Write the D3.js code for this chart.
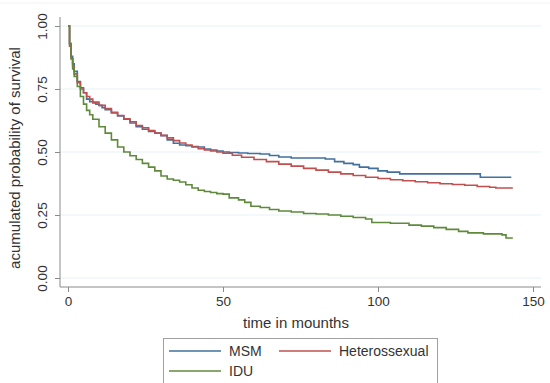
<!DOCTYPE html>
<html>
<head>
<meta charset="utf-8">
<script src="https://cdnjs.cloudflare.com/ajax/libs/d3/7.8.5/d3.min.js"></script>
<style>
  body { margin: 0; background: #fff; }
  svg { display: block; font-family: "Liberation Sans", Arial, sans-serif; }
</style>
</head>
<body>
<div id="chart"></div>
<script>
// Kaplan-Meier estimates (months, survival)
var msmTime = [0,0.5,1,1.5,2,3,4,5,6,7,8,9,10,11,12,14,16,18,20,22,24,26,28,30,32,34,36,38,40,42,44,46,48,50,52,55,58,62,65,68,72,76,80,83,86,89,92,94,97,100,103,107,112,120,128,133,143];
var msmSurv = [1,0.93,0.88,0.85,0.82,0.78,0.755,0.735,0.71,0.70,0.695,0.69,0.685,0.676,0.668,0.655,0.643,0.63,0.615,0.60,0.59,0.582,0.575,0.565,0.548,0.535,0.528,0.525,0.522,0.52,0.512,0.508,0.504,0.50,0.498,0.496,0.494,0.492,0.486,0.48,0.476,0.476,0.476,0.472,0.462,0.455,0.45,0.44,0.435,0.425,0.42,0.413,0.413,0.413,0.413,0.40,0.40];

var hetTime = [0,0.5,1,1.5,2,3,4,5,6,7,8,10,12,14,16,18,20,22,24,26,28,30,32,34,36,38,40,42,44,46,48,50,53,56,60,64,68,72,76,80,84,88,92,96,100,104,108,112,116,120,124,128,132,136,138,143.5];
var hetSurv = [1,0.92,0.87,0.84,0.81,0.775,0.75,0.735,0.72,0.71,0.698,0.685,0.672,0.658,0.645,0.632,0.62,0.605,0.596,0.585,0.575,0.566,0.556,0.545,0.536,0.528,0.52,0.513,0.508,0.504,0.50,0.495,0.487,0.479,0.47,0.462,0.452,0.444,0.435,0.428,0.42,0.413,0.407,0.40,0.395,0.39,0.386,0.382,0.378,0.374,0.371,0.368,0.363,0.36,0.357,0.357];

var iduTime = [0,0.5,1,1.5,2,3,4,5,6,7,8,10,12,14,16,18,20,22,24,26,28,30,32,34,36,38,40,42,44,46,48,50,52,55,57,59,62,65,68,72,76,80,84,88,92,96,98,104,110,114,118,122,126,129,134,140,141.3,143.5];
var iduSurv = [1,0.93,0.87,0.83,0.80,0.76,0.72,0.69,0.665,0.648,0.63,0.60,0.575,0.548,0.52,0.50,0.485,0.47,0.455,0.44,0.425,0.405,0.393,0.388,0.381,0.37,0.357,0.348,0.343,0.339,0.335,0.333,0.318,0.31,0.30,0.285,0.28,0.272,0.266,0.262,0.256,0.254,0.25,0.245,0.24,0.234,0.22,0.217,0.21,0.206,0.20,0.193,0.185,0.179,0.175,0.171,0.159,0.159];

var groups = ["MSM", "Heterossexual", "IDU"];
var groupColors = ["#41709f", "#c0504f", "#5f8a3b"];
var xTicks = [0, 50, 100, 150];
var yTicks = [0, 0.25, 0.5, 0.75, 1];

var series = [
    { name: groups[0], t: msmTime, s: msmSurv },
    { name: groups[1], t: hetTime, s: hetSurv },
    { name: groups[2], t: iduTime, s: iduSurv }
];

var width = 550, height = 383;

var svg = d3.select("#chart").append("svg")
    .attr("width", width)
    .attr("height", height);

// faint outer frame line near the top
svg.append("line")
    .attr("x1", 0).attr("x2", width)
    .attr("y1", 3).attr("y2", 3)
    .attr("stroke", "#f2f2f2");

var x = d3.scaleLinear().domain([0, 150]).range([68, 533]);
var y = d3.scaleLinear().domain([0, 1]).range([278, 26]);

var color = d3.scaleOrdinal().domain(groups).range(groupColors);

// gridlines
svg.append("g")
    .selectAll("line")
    .data(yTicks)
    .enter()
    .append("line")
    .attr("x1", 60).attr("x2", 541)
    .attr("y1", function(d) { return y(d); })
    .attr("y2", function(d) { return y(d); })
    .attr("stroke", "#e8f1f7")
    .attr("stroke-width", 1.2);

// y axis
var yAxis = d3.axisLeft(y)
    .tickValues(yTicks)
    .tickFormat(d3.format(".2f"))
    .tickSize(5)
    .tickSizeOuter(0);

var gy = svg.append("g")
    .attr("class", "y-axis axis")
    .attr("transform", "translate(60,0)")
    .call(yAxis);

gy.select(".domain").remove();
gy.append("line")
    .attr("x1", 0).attr("x2", 0)
    .attr("y1", 17).attr("y2", 287)
    .attr("stroke", "#8a8a8a");
gy.selectAll(".tick line").attr("stroke", "#8a8a8a");
gy.selectAll(".tick text")
    .attr("fill", "#333")
    .style("font-size", "13.5px")
    .attr("text-anchor", "middle")
    .attr("transform", "translate(-18,0) rotate(-90)")
    .attr("x", 0)
    .attr("dy", "0.35em");

// x axis
var xAxis = d3.axisBottom(x)
    .tickValues(xTicks)
    .tickSize(5)
    .tickSizeOuter(0);

var gx = svg.append("g")
    .attr("class", "x-axis axis")
    .attr("transform", "translate(0,287)")
    .call(xAxis);

gx.select(".domain").remove();
gx.append("line")
    .attr("x1", 60).attr("x2", 541)
    .attr("y1", 0).attr("y2", 0)
    .attr("stroke", "#8a8a8a");
gx.selectAll(".tick line").attr("stroke", "#8a8a8a");
gx.selectAll(".tick text")
    .attr("fill", "#333")
    .style("font-size", "13.5px")
    .attr("y", 9);

// axis titles
svg.append("text")
    .attr("x", 296)
    .attr("y", 328)
    .attr("text-anchor", "middle")
    .attr("fill", "#333")
    .style("font-size", "15px")
    .text("time in mounths");

svg.append("text")
    .attr("transform", "translate(20,158) rotate(-90)")
    .attr("text-anchor", "middle")
    .attr("fill", "#333")
    .style("font-size", "15px")
    .text("acumulated probability of survival");

// survival curves
var line = d3.line()
    .x(function(d) { return x(d[0]); })
    .y(function(d) { return y(d[1]); })
    .curve(d3.curveStepAfter);

svg.append("g")
    .selectAll("path")
    .data(series)
    .enter()
    .append("path")
    .attr("fill", "none")
    .attr("stroke", function(d) { return color(d.name); })
    .attr("stroke-width", 1.6)
    .attr("d", function(d) {
        return line(d.t.map(function(t, i) { return [t, d.s[i]]; }));
    });

// legend
var legend = svg.append("g").attr("class", "legend");

legend.append("rect")
    .attr("x", 163.5).attr("y", 338.5)
    .attr("width", 274).attr("height", 60)
    .attr("fill", "#fff")
    .attr("stroke", "#a0a0a0");

var legendPos = [[169, 351], [279, 351], [169, 371]];

var items = legend.selectAll(".item")
    .data(groups)
    .enter()
    .append("g")
    .attr("class", "item")
    .attr("transform", function(d, i) {
        return "translate(" + legendPos[i][0] + "," + legendPos[i][1] + ")";
    });

items.append("line")
    .attr("x1", 0).attr("x2", 52)
    .attr("stroke", function(d) { return color(d); })
    .attr("stroke-width", 1.6);

items.append("text")
    .attr("x", 60)
    .attr("dy", "0.35em")
    .attr("fill", "#333")
    .style("font-size", "14px")
    .text(function(d) { return d; });
</script>
</body>
</html>
